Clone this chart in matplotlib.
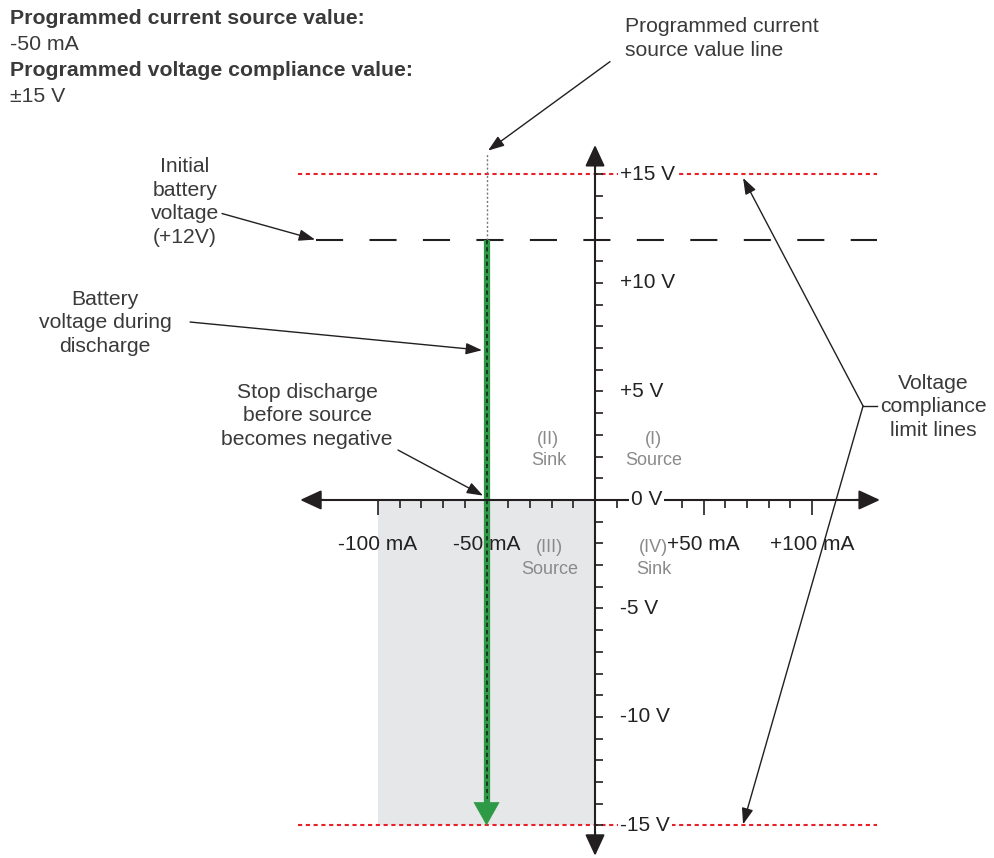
import matplotlib.pyplot as plt
import numpy as np

plt.rcParams['font.family'] = ['Liberation Sans', 'DejaVu Sans']
plt.rcParams['lines.scale_dashes'] = False

# chart values
source_current = -50          # mA
compliance = 15               # V
battery_start = 12            # V
shade_current = [-100, 0]     # mA
current_major = [-100, -50, 50, 100]
current_labels = ['-100 mA', '-50 mA', '+50 mA', '+100 mA']
current_minor = [c for c in range(-100, 101, 10) if c != 0]
voltage_ticks = [v for v in range(-15, 16) if v != 0]
voltage_label_vals = [15, 10, 5, 0, -5, -10, -15]
voltage_labels = ['+15 V', '+10 V', '+5 V', '0 V', '-5 V', '-10 V', '-15 V']
quadrants = [('(II)\nSink', -21.5, 2.3), ('(I)\nSource', 27, 2.3),
             ('(III)\nSource', -21, -2.7), ('(IV)\nSink', 27, -2.7)]

axc = '#231f20'
txt = '#3a3a3a'
red = '#e8202a'
green = '#2e9a45'

fig = plt.figure(figsize=(9.95, 8.58), dpi=100)
ax = fig.add_axes([0, 0, 1, 1])
ax.set_xlim(-274.2, 184.3)
ax.set_ylim(-16.5, 23.04)

for s in ['top', 'right']:
    ax.spines[s].set_visible(False)
ax.spines['left'].set_position(('data', 0))
ax.spines['bottom'].set_position(('data', 0))
ax.spines['bottom'].set_bounds(-130, 125)
ax.spines['left'].set_bounds(-15.8, 15.6)
for s in ['left', 'bottom']:
    ax.spines[s].set_linewidth(1.5)
    ax.spines[s].set_color(axc)
    ax.spines[s].set_zorder(4)

ax.set_xticks(current_major)
ax.set_xticks(current_minor, minor=True)
ax.tick_params(axis='x', which='major', direction='out', length=11, width=1.2,
               color=axc, labelbottom=False)
ax.tick_params(axis='x', which='minor', direction='out', length=6, width=1.2,
               color=axc)
ax.set_yticks(voltage_ticks)
ax.tick_params(axis='y', direction='in', length=5.5, width=1.2, color=axc,
               labelleft=False)

# axis arrow heads
head = '-|>,head_length=0.65,head_width=0.3'
for tip, base in [((131.3, 0), (120, 0)), ((-135.9, 0), (-125, 0)),
                  ((0, 16.36), (0, 15.3)), ((0, -16.4), (0, -15.3))]:
    ax.annotate('', xy=tip, xytext=base,
                arrowprops=dict(arrowstyle=head, mutation_scale=20, lw=1.5,
                                color=axc, shrinkA=0, shrinkB=0), zorder=5)

# shaded source quadrant region
ax.fill_between(shade_current, -compliance, 0, color='#e6e7e8', lw=0, zorder=0)

# compliance limit lines
for v in [compliance, -compliance]:
    ax.plot([-137, 130], [v, v], color=red, lw=1.5, dashes=(3, 2.6), zorder=1)

# initial battery voltage
ax.plot([-128.6, 130], [battery_start, battery_start], color=axc, lw=1.5,
        dashes=(19.5, 19), zorder=1)

# programmed current source value line
ax.plot([source_current, source_current], [battery_start, 16], color='#777777',
        lw=1, dashes=(1.5, 1.5), zorder=1)

# battery discharge
ax.plot([source_current, source_current], [battery_start, -14.2], color=green,
        lw=4.5, solid_capstyle='butt', zorder=3)
ax.plot([source_current, source_current], [battery_start, -13.8], color='#1a1a1a',
        lw=1.1, dashes=(3, 2.2), zorder=3)
ax.annotate('', xy=(source_current, -compliance), xytext=(source_current, -13.5),
            arrowprops=dict(arrowstyle='-|>,head_length=0.8,head_width=0.45',
                            mutation_scale=20, lw=0.5, color=green,
                            shrinkA=0, shrinkB=0), zorder=3)

# axis labels
for v, lab in zip(voltage_label_vals, voltage_labels):
    x = 16.5 if v == 0 else 11.5
    ax.text(x, v, lab, ha='left', va='center', fontsize=15, color='#222222',
            zorder=6, bbox=dict(fc='white', ec='none', pad=1.5))
for c, lab in zip(current_major, current_labels):
    ax.text(c, -2.07, lab, ha='center', va='center', fontsize=15,
            color='#222222', zorder=6)

for lab, x, y in quadrants:
    ax.text(x, y, lab, ha='center', va='center', fontsize=13, color='#8a8a8a',
            linespacing=1.36)

# header
hdr = [('Programmed current source value:', 'bold'), ('-50 mA', 'normal'),
       ('Programmed voltage compliance value:', 'bold'), ('\u00b115 V', 'normal')]
for i, (s, w) in enumerate(hdr):
    ax.text(0.01, 1 - (18 + 26.3 * i) / 858, s, transform=ax.transAxes,
            ha='left', va='center', fontsize=15.3, fontweight=w, color=txt)

# annotations
fs = 15.2
ls = 1.3
arr = dict(arrowstyle='-|>,head_length=0.7,head_width=0.25', mutation_scale=14,
           lw=1, color=axc, shrinkA=0, shrinkB=0)
ax.text(13.8, 21.27, 'Programmed current\nsource value line', ha='left',
        va='center', fontsize=fs, color=txt, linespacing=ls)
ax.annotate('', xy=(-49.3, 16.1), xytext=(6.9, 20.2), arrowprops=arr)

ax.text(-189, 13.73, 'Initial\nbattery\nvoltage\n(+12V)', ha='center',
        va='center', fontsize=fs, color=txt, linespacing=ls)
ax.annotate('', xy=(-129, battery_start), xytext=(-171.9, 13.2), arrowprops=arr)

ax.text(-225.8, 8.16, 'Battery\nvoltage during\ndischarge', ha='center',
        va='center', fontsize=fs, color=txt, linespacing=ls)
ax.annotate('', xy=(-52.1, 6.9), xytext=(-186.6, 8.2), arrowprops=arr)

ax.text(-132.7, 3.87, 'Stop discharge\nbefore source\nbecomes negative',
        ha='center', va='center', fontsize=fs, color=txt, linespacing=ls)
ax.annotate('', xy=(-51.6, 0.2), xytext=(-90.8, 2.3), arrowprops=arr)

ax.text(155.8, 4.29, 'Voltage\ncompliance\nlimit lines', ha='center',
        va='center', fontsize=fs, color=txt, linespacing=ls)
ax.plot([123.5, 130], [4.33, 4.33], color=axc, lw=1)
ax.annotate('', xy=(68.2, 14.84), xytext=(123.5, 4.33), arrowprops=arr)
ax.annotate('', xy=(68.2, -14.95), xytext=(123.5, 4.33), arrowprops=arr)

fig.savefig('out.png', dpi=100)
